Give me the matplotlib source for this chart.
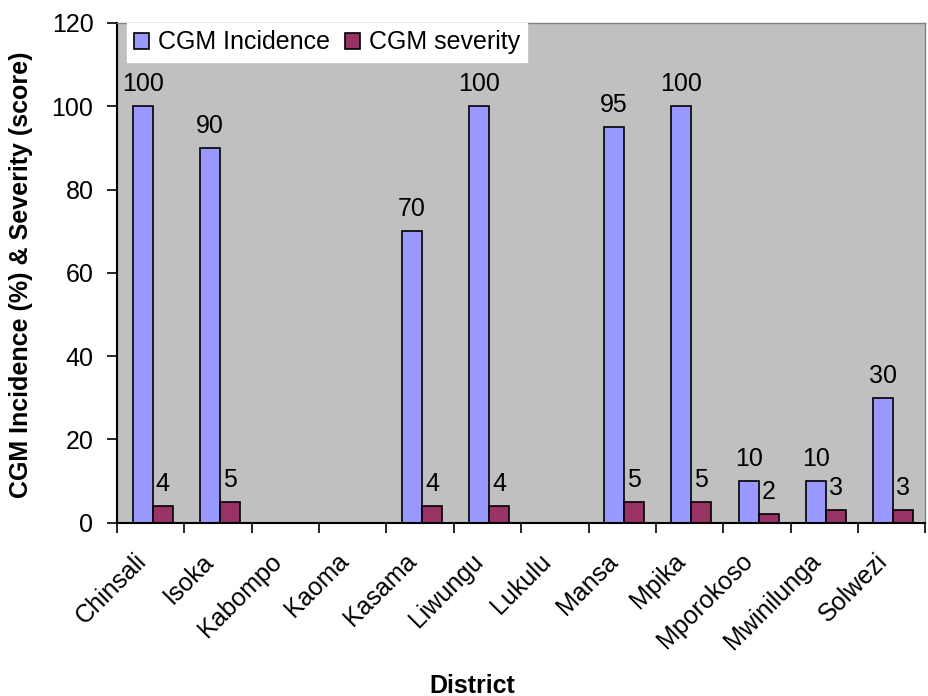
import numpy as np
import matplotlib
matplotlib.use("Agg")
import matplotlib.pyplot as plt
from matplotlib.ticker import FixedLocator, NullFormatter

plt.rcParams['font.family'] = ['Liberation Sans', 'DejaVu Sans']

districts = ['Chinsali', 'Isoka', 'Kabompo', 'Kaoma', 'Kasama', 'Liwungu',
             'Lukulu', 'Mansa', 'Mpika', 'Mporokoso', 'Mwinilunga', 'Solwezi']
incidence = [100, 90, 0, 0, 70, 100, 0, 95, 100, 10, 10, 30]
severity = [4, 5, 0, 0, 4, 4, 0, 5, 5, 2, 3, 3]

fig = plt.figure(figsize=(9.29, 6.96), dpi=100)
ax = fig.add_axes([0.126, 0.249, 0.87, 0.718])
ax.set_facecolor('#C0C0C0')

x = np.arange(len(districts))
w = 0.297
b1 = ax.bar(x - w/2 + 0.028, incidence, w, color='#9999FF', edgecolor='black',
            linewidth=1.2, label='CGM Incidence')
b2 = ax.bar(x + w/2 + 0.028, severity, w, color='#993366', edgecolor='black',
            linewidth=1.2, label='CGM severity')

for rect, v in zip(b1, incidence):
    if v:
        ax.text(rect.get_x() + rect.get_width()/2, v + 2.4, str(v),
                ha='center', va='bottom', fontsize=18)
for rect, v in zip(b2, severity):
    if v:
        ax.text(rect.get_x() + rect.get_width()/2, v + 2.4, str(v),
                ha='center', va='bottom', fontsize=18)

ax.set_xlim(-0.5, len(districts) - 0.5)
ax.set_ylim(0, 120)
ax.set_yticks(range(0, 121, 20))
ax.tick_params(axis='y', labelsize=18, direction='out', length=7, width=1.2,
               pad=10)
# labels sit a bit left of the category centre, as in the original
ax.set_xticks(x - 0.24)
ax.set_xticklabels(districts, rotation=45, ha='right', rotation_mode='anchor',
                   fontsize=18)
ax.tick_params(axis='x', which='major', length=0, pad=19)
ax.xaxis.set_minor_locator(FixedLocator(np.arange(-0.5, len(districts), 1)))
ax.xaxis.set_minor_formatter(NullFormatter())
ax.tick_params(axis='x', which='minor', direction='out', length=7, width=1.2)

for s in ['top', 'right']:
    ax.spines[s].set_color('#808080')
    ax.spines[s].set_linewidth(1.0)
for s in ['left', 'bottom']:
    ax.spines[s].set_linewidth(1.5)

ax.set_ylabel('CGM Incidence (%) & Severity (score)', fontsize=18,
              fontweight='bold')
ax.yaxis.set_label_coords(-0.104, 0.497)
ax.set_xlabel('District', fontsize=18, fontweight='bold')
ax.xaxis.set_label_coords(0.44, -0.302)

leg = ax.legend(loc='upper left', ncol=2, fontsize=18, frameon=True,
                fancybox=False, borderaxespad=0.0, handlelength=0.6,
                handleheight=0.6, handletextpad=0.35, columnspacing=0.6,
                borderpad=0.3, bbox_to_anchor=(0.012, 1.0))
leg.get_frame().set_facecolor('white')
leg.get_frame().set_edgecolor('white')
leg.get_frame().set_alpha(1)

fig.savefig('out.png', dpi=100)
